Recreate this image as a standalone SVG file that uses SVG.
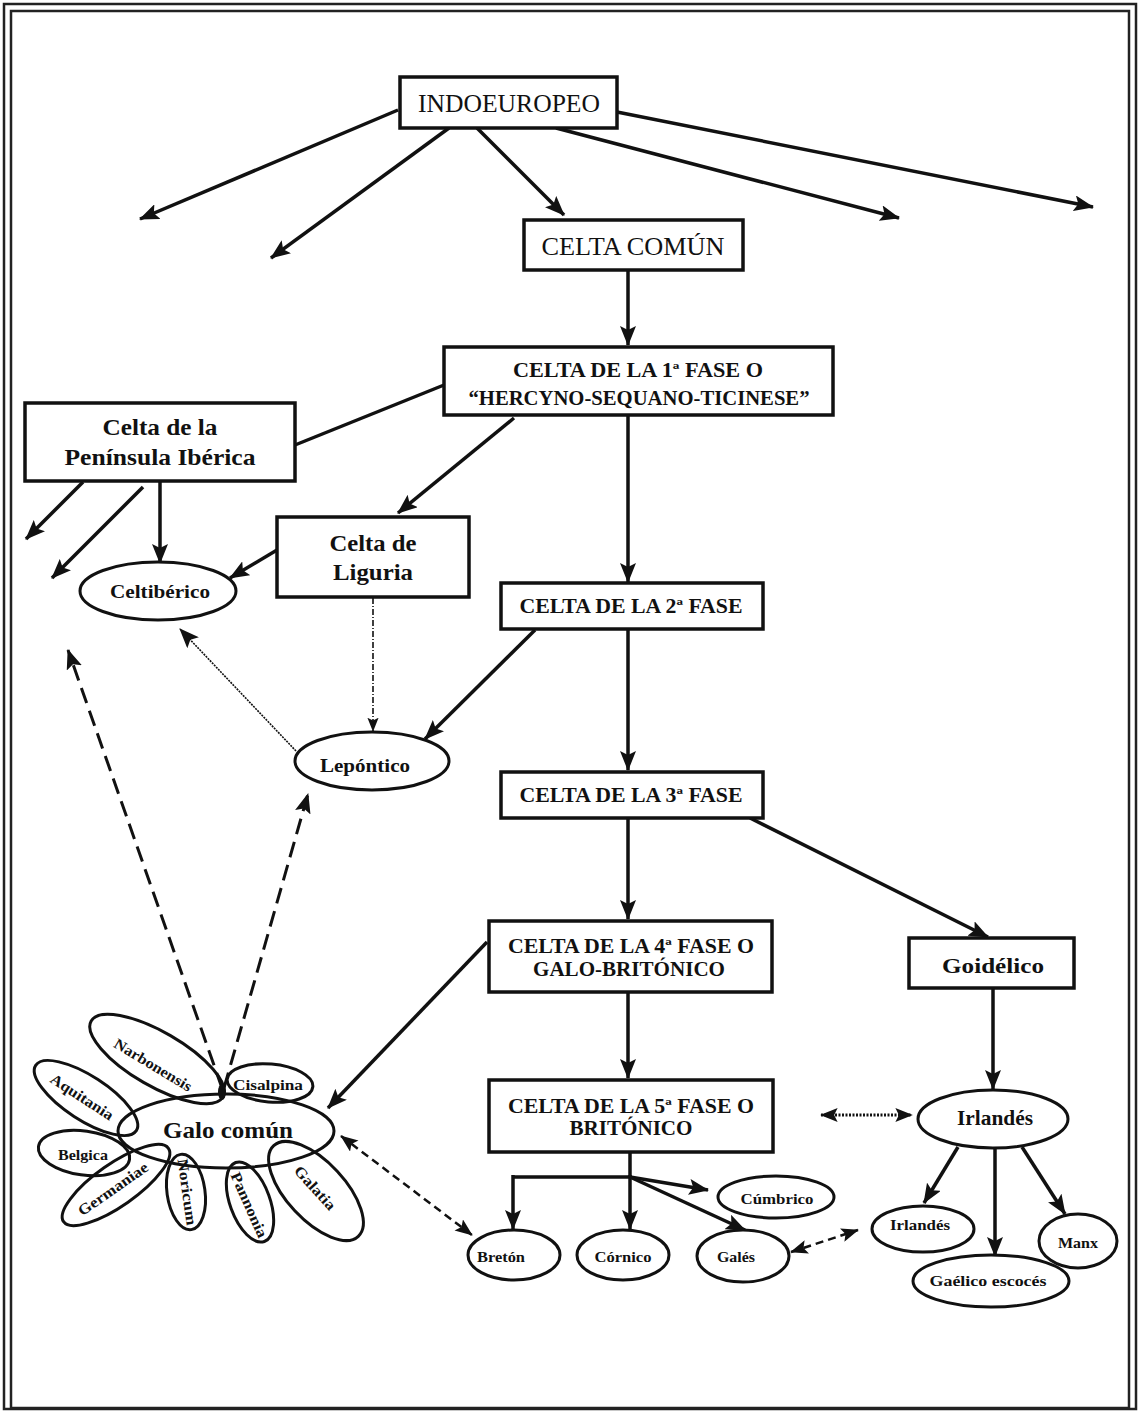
<svg xmlns="http://www.w3.org/2000/svg" width="1140" height="1412" viewBox="0 0 1140 1412">
<style>
text{font-family:"Liberation Serif","Times New Roman",serif;fill:#111;text-anchor:middle}
.b{font-weight:bold}
.box{fill:#fff;stroke:#111;stroke-width:3.5}
.ell{fill:#fff;stroke:#111;stroke-width:3}
.pet{fill:none;stroke:#111;stroke-width:3}
.ln{fill:none;stroke:#111;stroke-width:3.5}
.arr{fill:none;stroke:#111;stroke-width:3.5;marker-end:url(#ah)}
.dash{fill:none;stroke:#111;stroke-width:3;stroke-dasharray:16 8;marker-end:url(#ah)}
.dd{fill:none;stroke:#111;stroke-width:2.5;stroke-dasharray:8 5;marker-start:url(#ahs);marker-end:url(#ahs)}
.dot{fill:none;stroke:#111;stroke-width:3;stroke-dasharray:2 1.5;marker-start:url(#ahs);marker-end:url(#ahs)}
.thin{fill:none;stroke:#111;stroke-width:1.6;stroke-dasharray:2 1;marker-end:url(#ah)}
.dashdot{fill:none;stroke:#111;stroke-width:1.6;stroke-dasharray:6 2 1 2;marker-end:url(#ahm)}
</style>
<defs>
<marker id="ah" viewBox="0 0 20 16" refX="19" refY="8" markerWidth="20" markerHeight="16" orient="auto" markerUnits="userSpaceOnUse"><path d="M0,0 L20,8 L0,16 L4,8 Z" fill="#111"/></marker>
<marker id="ahs" viewBox="0 0 20 16" refX="19" refY="8" markerWidth="18" markerHeight="14" orient="auto-start-reverse" markerUnits="userSpaceOnUse"><path d="M0,0 L20,8 L0,16 L4,8 Z" fill="#111"/></marker>
<marker id="ahm" viewBox="0 0 20 16" refX="19" refY="8" markerWidth="14" markerHeight="12" orient="auto" markerUnits="userSpaceOnUse"><path d="M0,0 L20,8 L0,16 L4,8 Z" fill="#111"/></marker>
</defs>
<rect width="1140" height="1412" fill="#fff"/>
<rect x="4" y="4" width="1132" height="1405" fill="none" stroke="#222" stroke-width="2.5"/>
<rect x="11" y="11" width="1118" height="1397" fill="none" stroke="#222" stroke-width="2.5"/>

<g id="connectors">
<line class="arr" x1="398" y1="110" x2="140" y2="219"/>
<line class="arr" x1="449" y1="128" x2="271" y2="258"/>
<line class="arr" x1="477" y1="128" x2="564" y2="215"/>
<line class="arr" x1="556" y1="128" x2="899" y2="218"/>
<line class="arr" x1="617" y1="112" x2="1093" y2="207"/>
<line class="arr" x1="628" y1="270" x2="628" y2="345"/>
<line class="ln" x1="444" y1="385" x2="295" y2="445"/>
<line class="arr" x1="514" y1="418" x2="398" y2="513"/>
<line class="arr" x1="628" y1="416" x2="628" y2="582"/>
<line class="arr" x1="83" y1="482" x2="26" y2="539"/>
<line class="arr" x1="143" y1="487" x2="52" y2="578"/>
<line class="arr" x1="160" y1="481" x2="160" y2="563"/>
<line class="arr" x1="277" y1="550" x2="230" y2="578"/>
<line class="dashdot" x1="373" y1="598" x2="373" y2="731"/>
<line class="thin" x1="296" y1="751" x2="180" y2="629"/>
<line class="arr" x1="535" y1="630" x2="425" y2="739"/>
<line class="arr" x1="628" y1="629" x2="628" y2="770"/>
<line class="arr" x1="750" y1="818" x2="988" y2="937"/>
<line class="arr" x1="628" y1="818" x2="628" y2="919"/>
<line class="arr" x1="487" y1="942" x2="328" y2="1108"/>
<line class="arr" x1="628" y1="992" x2="628" y2="1078"/>
<line class="arr" x1="993" y1="988" x2="993" y2="1089"/>
<line class="dot" x1="821" y1="1115" x2="912" y2="1115"/>
<line class="dash" x1="222" y1="1088" x2="68" y2="650"/>
<line class="dash" x1="224" y1="1088" x2="308" y2="794"/>
<line class="dd" x1="341" y1="1136" x2="472" y2="1235"/>
<line class="dd" x1="791" y1="1252" x2="858" y2="1230"/>
<path class="ln" d="M630,1152 L630,1177 L513,1177"/>
<line class="arr" x1="513" y1="1175" x2="513" y2="1229"/>
<line class="arr" x1="630" y1="1175" x2="630" y2="1229"/>
<line class="arr" x1="630" y1="1177" x2="708" y2="1190"/>
<line class="arr" x1="630" y1="1177" x2="745" y2="1230"/>
<line class="arr" x1="958" y1="1147" x2="924" y2="1203"/>
<line class="arr" x1="995" y1="1149" x2="995" y2="1256"/>
<line class="arr" x1="1022" y1="1147" x2="1065" y2="1214"/>
</g>

<g id="indoeuropeo"><rect class="box" x="400" y="77" width="217" height="51"/><text x="509" y="112" font-size="25" textLength="182" lengthAdjust="spacingAndGlyphs">INDOEUROPEO</text></g>
<g id="celta-comun"><rect class="box" x="524" y="220" width="219" height="50"/><text x="633" y="255" font-size="25" textLength="183" lengthAdjust="spacingAndGlyphs">CELTA COMÚN</text></g>
<g id="celta-1"><rect class="box" x="444" y="347" width="389" height="68"/><text class="b" x="638" y="377" font-size="20" textLength="250" lengthAdjust="spacingAndGlyphs">CELTA DE LA 1ª FASE O</text><text class="b" x="639" y="405" font-size="20" textLength="341" lengthAdjust="spacingAndGlyphs">“HERCYNO-SEQUANO-TICINESE”</text></g>
<g id="peninsula"><rect class="box" x="25" y="403" width="270" height="78" stroke-width="3"/><text class="b" x="160" y="435" font-size="23" textLength="115" lengthAdjust="spacingAndGlyphs">Celta de la</text><text class="b" x="160" y="465" font-size="23" textLength="191" lengthAdjust="spacingAndGlyphs">Península Ibérica</text></g>
<g id="liguria"><rect class="box" x="277" y="517" width="192" height="80" stroke-width="2.5"/><text class="b" x="373" y="551" font-size="23" textLength="87" lengthAdjust="spacingAndGlyphs">Celta de</text><text class="b" x="373" y="580" font-size="23" textLength="80" lengthAdjust="spacingAndGlyphs">Liguria</text></g>
<g id="celtiberico"><ellipse class="ell" cx="158" cy="591" rx="78" ry="29"/><text class="b" x="160" y="598" font-size="18" textLength="100" lengthAdjust="spacingAndGlyphs">Celtibérico</text></g>
<g id="celta-2"><rect class="box" x="501" y="583" width="262" height="46"/><text class="b" x="631" y="613" font-size="20" textLength="223" lengthAdjust="spacingAndGlyphs">CELTA DE LA 2ª FASE</text></g>
<g id="lepontico"><ellipse class="ell" cx="372" cy="761" rx="77" ry="29"/><text class="b" x="365" y="772" font-size="18" textLength="90" lengthAdjust="spacingAndGlyphs">Lepóntico</text></g>
<g id="celta-3"><rect class="box" x="501" y="772" width="262" height="46"/><text class="b" x="631" y="802" font-size="20" textLength="223" lengthAdjust="spacingAndGlyphs">CELTA DE LA 3ª FASE</text></g>
<g id="celta-4"><rect class="box" x="489" y="921" width="283" height="71"/><text class="b" x="631" y="953" font-size="20" textLength="246" lengthAdjust="spacingAndGlyphs">CELTA DE LA 4ª FASE O</text><text class="b" x="629" y="976" font-size="20" textLength="192" lengthAdjust="spacingAndGlyphs">GALO-BRITÓNICO</text></g>
<g id="goidelico"><rect class="box" x="909" y="938" width="165" height="50" stroke-width="3"/><text class="b" x="993" y="973" font-size="22" textLength="102" lengthAdjust="spacingAndGlyphs">Goidélico</text></g>
<g id="celta-5"><rect class="box" x="489" y="1080" width="284" height="72"/><text class="b" x="631" y="1113" font-size="20" textLength="246" lengthAdjust="spacingAndGlyphs">CELTA DE LA 5ª FASE O</text><text class="b" x="631" y="1135" font-size="20" textLength="123" lengthAdjust="spacingAndGlyphs">BRITÓNICO</text></g>
<g id="irlandes"><ellipse class="ell" cx="993" cy="1119" rx="75" ry="29"/><text class="b" x="995" y="1125" font-size="20" textLength="76" lengthAdjust="spacingAndGlyphs">Irlandés</text></g>
<g id="cumbrico"><ellipse class="ell" cx="776" cy="1197" rx="58" ry="21"/><text class="b" x="777" y="1204" font-size="15" textLength="73" lengthAdjust="spacingAndGlyphs">Cúmbrico</text></g>
<g id="breton"><ellipse class="ell" cx="514" cy="1255" rx="46" ry="25"/><text class="b" x="501" y="1262" font-size="15" textLength="48" lengthAdjust="spacingAndGlyphs">Bretón</text></g>
<g id="cornico"><ellipse class="ell" cx="623" cy="1255" rx="46" ry="25"/><text class="b" x="623" y="1262" font-size="15" textLength="57" lengthAdjust="spacingAndGlyphs">Córnico</text></g>
<g id="gales"><ellipse class="ell" cx="743" cy="1256" rx="46" ry="26"/><text class="b" x="736" y="1262" font-size="15" textLength="38" lengthAdjust="spacingAndGlyphs">Galés</text></g>
<g id="irlandes-2"><ellipse class="ell" cx="923" cy="1229" rx="51" ry="23"/><text class="b" x="920" y="1230" font-size="15" textLength="60" lengthAdjust="spacingAndGlyphs">Irlandés</text></g>
<g id="manx"><ellipse class="ell" cx="1078" cy="1241" rx="39" ry="27"/><text class="b" x="1078" y="1248" font-size="15" textLength="40" lengthAdjust="spacingAndGlyphs">Manx</text></g>
<g id="gaelico"><ellipse class="ell" cx="991" cy="1281" rx="78" ry="26"/><text class="b" x="988" y="1286" font-size="15" textLength="117" lengthAdjust="spacingAndGlyphs">Gaélico escocés</text></g>

<g id="galo-comun">
<ellipse class="pet" cx="226" cy="1131" rx="108" ry="37"/>
<ellipse class="pet" cx="157" cy="1059" rx="76" ry="27" transform="rotate(30 157 1059)"/>
<ellipse class="pet" cx="270" cy="1083" rx="43" ry="19" transform="rotate(5 270 1083)"/>
<ellipse class="pet" cx="86" cy="1098" rx="60" ry="22" transform="rotate(33 86 1098)"/>
<ellipse class="pet" cx="84" cy="1153" rx="46" ry="22" transform="rotate(8 84 1153)"/>
<ellipse class="pet" cx="116" cy="1185" rx="64" ry="21" transform="rotate(-35 116 1185)"/>
<ellipse class="pet" cx="186" cy="1192" rx="19" ry="38" transform="rotate(-8 186 1192)"/>
<ellipse class="pet" cx="250" cy="1202" rx="20" ry="42" transform="rotate(-20 250 1202)"/>
<ellipse class="pet" cx="316" cy="1191" rx="62" ry="29" transform="rotate(47 316 1191)"/>
<ellipse cx="222" cy="1092" rx="4" ry="8" fill="#111"/>
<text class="b" x="228" y="1138" font-size="24" textLength="130" lengthAdjust="spacingAndGlyphs">Galo común</text>
<text class="b" x="153" y="1070" font-size="15" textLength="88" lengthAdjust="spacingAndGlyphs" transform="rotate(31 153 1065)">Narbonensis</text>
<text class="b" x="268" y="1090" font-size="15" textLength="70" lengthAdjust="spacingAndGlyphs">Cisalpina</text>
<text class="b" x="82" y="1102" font-size="15" textLength="72" lengthAdjust="spacingAndGlyphs" transform="rotate(33 82 1097)">Aquitania</text>
<text class="b" x="83" y="1160" font-size="15" textLength="50" lengthAdjust="spacingAndGlyphs">Belgica</text>
<text class="b" x="113" y="1194" font-size="15" textLength="82" lengthAdjust="spacingAndGlyphs" transform="rotate(-35 113 1189)">Germaniae</text>
<text class="b" x="187" y="1197" font-size="15" textLength="67" lengthAdjust="spacingAndGlyphs" transform="rotate(82 187 1192)">Noricum</text>
<text class="b" x="249" y="1210" font-size="15" textLength="70" lengthAdjust="spacingAndGlyphs" transform="rotate(66 249 1205)">Pannonia</text>
<text class="b" x="315" y="1193" font-size="15" textLength="54" lengthAdjust="spacingAndGlyphs" transform="rotate(48 315 1188)">Galatia</text>
</g>
</svg>
